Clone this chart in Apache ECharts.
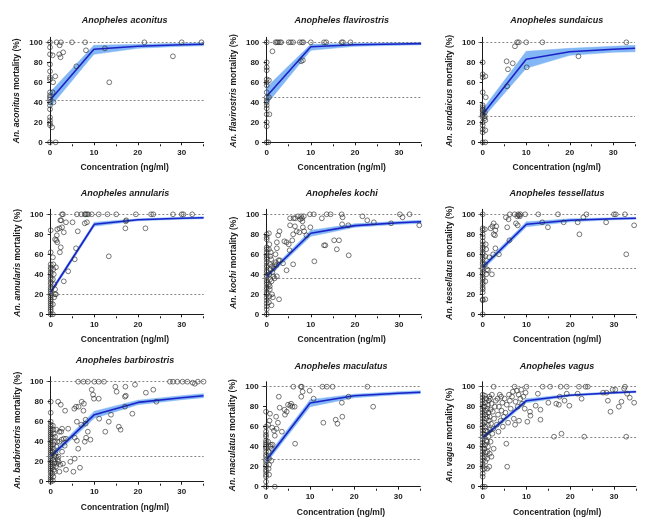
<!DOCTYPE html>
<html>
<head>
<meta charset="utf-8">
<script src="https://cdn.jsdelivr.net/npm/echarts@6/dist/echarts.min.js"></script>
<style>
html, body { margin: 0; background: #fff; }
#chart { width: 669px; height: 530px; }
</style>
</head>
<body>
<div id="chart"></div>
<script>
// tick labels
var xTicks = [0, 10, 20, 30];
var xMinorTicks = [5, 15, 25, 35];
var yTicks = [0, 20, 40, 60, 80, 100];

// concentrations where the fitted curve / CI band is drawn
var fitConc = [0, 10, 20, 30, 35];

var species = ['aconitus', 'flavirostris', 'sundaicus', 'annularis', 'kochi', 'tessellatus', 'barbirostris', 'maculatus', 'vagus'];
// control mortality (lower dotted line)
var controlMort = [42, 45, 26, 20, 36, 46, 25, 27, 49];

var aconitusFit = [42, 93, 96, 97.5, 98];
var aconitusLow = [35, 88, 94, 96, 96.5];
var aconitusHigh = [50, 97, 98, 99, 99.5];
var aconitusPts = [[0,100],[0,95],[0,88],[0,78],[0,71],[0,65],[0,63],[0,50],[0,47],[0,45],[0,43],[0,40],[0,37],[0,33],[0,25],[0,22],[0,19],[0,17],[0,0],
  [0.6,87],[0.7,60],[0.6,50],[0.8,40],[0.5,15],[1.2,66],[1.3,0],[1.5,100],[2.5,100],[2.2,97],[2.1,88],[2.4,85],[3,90],
  [5,100],[8,100],[6,76],[8.2,92],[12.5,94],[13.5,60],[21.5,100],[28,86],[30,100],[34.5,100]];

var flavirostrisFit = [46, 95.5, 97.5, 98.3, 98.7];
var flavirostrisLow = [38, 92, 96, 97, 97.5];
var flavirostrisHigh = [55, 98, 99, 99.5, 99.7];
var flavirostrisPts = [[0,100],[0,80],[0,75],[0,72],[0,63],[0,60],[0,57],[0,50],[0,45],[0,42],[0,40],[0,37],[0,34],[0,28],[0,20],[0,16],[0,0],
  [0.5,62],[0.6,28],[0.4,0],[0.5,45],[1.3,91],[2,100],[2.3,100],[2.6,100],[3,100],[3.3,100],[5,100],[5.5,100],[6,100],
  [7.5,100],[8,100],[8.3,100],[10,100],[13,100],[13.5,100],[17,100],[17.3,100],[19,100],[7.8,81],[8.2,82]];

var sundaicusFit = [28, 83, 90.5, 93, 94];
var sundaicusLow = [24, 74, 87, 90, 90.5];
var sundaicusHigh = [33, 91, 94, 96, 97];
var sundaicusPts = [[0,80],[0,68],[0,65],[0,50],[0,37],[0,35],[0,33],[0,32],[0,30],[0,28],[0,27],[0,25],[0,20],[0,17],[0,13],[0,10],[0,0],
  [0.6,66],[0.7,45],[0.6,22],[0.6,12],[0.6,0],[0.5,30],[0.5,26],[0.4,24],[5.5,81],[5.8,73],[6.9,79],[5.6,56],[7.4,96],
  [7.9,100],[8.3,100],[10,100],[10.1,75],[13.7,100],[22,86],[33,100]];

var annularisFit = [22, 90, 94.5, 96, 96.5];
var annularisLow = [20, 88, 93.5, 95, 95.5];
var annularisHigh = [24, 92, 95.5, 97, 97.5];
var annularisPts = [[0,0],[0,3],[0,5],[0,7],[0,9],[0,11],[0,13],[0,15],[0,17],[0,19],[0,21],[0,23],[0,25],[0,27],[0,30],[0,32],[0,35],[0,37],[0,40],[0,42],[0,45],[0,47],[0,50],[0,62],[0,84],
  [0.5,57],[0.6,45],[0.7,40],[0.5,35],[0.8,30],[1,25],[1,20],[0.5,10],[0.5,0],[1.2,20],[0.8,17],[0.6,50],[1.2,47],
  [1,75],[1.3,74],[1.5,72],[1.4,79],[1.5,85],[2,86],[2.2,94],[2.4,94],[2.1,62],[2.3,67],[2.6,87],[3,82],[3,33],[2.6,100],[2.8,100],
  [3.5,92],[4,43],[5,92],[5.5,55],[5.8,66],[6.2,83],[6,100],[7,100],[7.8,100],[8,100],[8.3,100],[8.6,100],[9.4,100],[7.8,91],[8.3,92],
  [11,100],[13,100],[15,100],[13.3,58],[17.2,93],[17.3,94],[17.1,86],[19.5,100],[21.7,86],[23,100],[23.5,100],[28,100],[30,100],[30.4,100],[32.4,100]];

var kochiFit = [38, 81, 88.7, 91.5, 92.5];
var kochiLow = [36, 78, 87, 90, 91];
var kochiHigh = [40, 84, 90.5, 93, 94];
var kochiPts = [[0,0],[0,5],[0,8],[0,11],[0,14],[0,17],[0,20],[0,22],[0,25],[0,27],[0,30],[0,32],[0,34],[0,37],[0,39],[0,42],[0,44],[0,47],[0,49],[0,52],[0,55],[0,57],[0,59],[0,62],[0,65],[0,67],[0,75],[0,77],[0,80],
  [0.5,12],[0.6,18],[0.7,25],[0.5,30],[0.8,35],[0.6,40],[0.9,45],[0.7,50],[1,55],[0.8,58],[1.2,48],[1.3,42],[1.5,38],[1.2,20],[1.4,17],[1.1,9],
  [1.6,46],[1.8,50],[2,52],[2.2,49],[0.5,65],[0.6,70],[0.5,81],[0.9,62],[1.1,33],[0.7,28],
  [1.8,36],[2.3,38],[2.8,15],[2.7,54],[2.3,66],[2.3,72],[2.6,79],[2.9,83],[2,60],[3,54],[3.7,51],[4,73],[4.5,72],[4.5,44],[5,70],[5.2,64],
  [5.3,89],[5.3,96],[5.8,74],[6,80],[6.1,96],[6.4,88],[6,50],[6.5,96],[6.8,83],[7.1,98],[7.4,82],[7.6,95],[7.8,98],[8,96],[8.1,93],[8.2,87],
  [8.4,98],[8.5,83],[9,79],[9.8,100],[9.9,87],[10.7,100],[10.8,53],[12.5,96],[13,69],[13.3,69],[13.6,100],[14.5,100],[15.3,74],[15.9,65],
  [16.4,74],[17,100],[17.1,90],[17.2,97],[18.6,59],[18.5,89],[21.7,98],[22.8,94],[24.3,92],[28.2,91],[30.2,100],[30.8,97],[32.4,100],[34.6,89]];

var tessellatusFit = [47, 90, 94, 95.5, 96];
var tessellatusLow = [44.5, 87.5, 92.5, 94.5, 95];
var tessellatusHigh = [49.5, 92.5, 95.5, 96.5, 97];
var tessellatusPts = [[0,100],[0,86],[0,84],[0,80],[0,77],[0,73],[0,70],[0,67],[0,65],[0,62],[0,60],[0,57],[0,55],[0,52],[0,50],[0,47],[0,45],[0,42],[0,40],[0,37],[0,35],[0,32],[0,30],[0,27],[0,25],[0,22],[0,15],[0,14],[0,0],
  [0.5,85],[0.7,70],[0.8,65],[0.6,58],[0.5,50],[1,45],[1.2,44],[0.8,40],[0.6,33],[0.6,15],[2.1,40],[1.5,57],[1.8,86],[2.2,88],[2.5,91],[2.5,80],
  [2.8,79],[2.9,84],[3.1,88],[2.9,66],[3.7,60],[2.4,60],[5.3,97],[5.6,87],[5.9,95],[6.2,100],[6.1,74],[7.3,100],[7.6,91],[8,89],[7.9,98],[8.1,100],
  [8.3,99],[8.5,98],[8.6,100],[9.7,100],[12.7,100],[13.6,92],[14.9,87],[17.2,100],[18.5,92],[21.7,92],[22.1,80],[23,97],[23.7,100],[28.2,92],
  [30,100],[30.4,100],[32.5,100],[32.8,60],[34.6,89]];

var barbirostrisFit = [25, 67, 79.3, 84, 86];
var barbirostrisLow = [23, 63.5, 77, 82, 84];
var barbirostrisHigh = [27.5, 70.5, 81.5, 86, 88];
var barbirostrisPts = [[0,0],[0,2],[0,4],[0,6],[0,9],[0,11],[0,13],[0,15],[0,17],[0,19],[0,21],[0,23],[0,25],[0,27],[0,29],[0,31],[0,33],[0,35],[0,37],[0,39],[0,41],[0,43],[0,45],[0,47],[0,49],[0,51],[0,53],[0,55],[0,57],[0,60],[0,69],[0,80],
  [0.5,1],[0.6,5],[0.4,8],[0.7,12],[0.5,15],[0.8,18],[0.6,22],[0.9,26],[0.5,30],[0.7,33],[0.6,37],[0.8,40],[0.5,44],[0.7,48],[0.6,52],[0.5,56],
  [1,20],[1.2,15],[1.1,28],[1.3,35],[1.5,40],[1.2,25],[1.4,18],[1.6,22],[1.8,20],[0.9,10],[1,45],[2.8,18],[2.5,42],[3.2,36],
  [1.7,80],[2.3,77],[1.3,52],[2,50],[2.4,50],[2.6,53],[3,43],[3.5,43],[4,53],[3.3,71],[2,40],[2.6,30],[1.8,25],[2.2,17],[2,10],[3.5,12],
  [4.5,20],[5.2,10],[5.5,23],[5.5,44],[6,41],[6.3,33],[6.7,14],[5.4,73],[5.8,75],[6.4,75],[6,60],[7,57],[7.1,80],[7.6,78],[7.5,71],[8,58],
  [7.8,40],[8.1,44],[8.5,50],[9.1,42],[8,62],[8.5,100],[6.3,100],[7.5,100],[9.4,92],[9.7,87],[9.9,83],[10,100],[11,100],[11,83],[11.1,63],
  [12.2,100],[12.5,50],[13.3,60],[13.8,67],[14.8,95],[15.1,90],[15.6,55],[16,52],[17,85],[17.2,86],[17.1,95],[17,75],[18.7,68],[19.3,97],
  [21.8,89],[23.5,92],[24.2,80],[27.3,100],[28,100],[29,100],[30.2,100],[31.3,100],[32.5,99],[33,98],[33.7,100],[35,100]];

var maculatusFit = [26, 83.7, 91, 93.5, 94.5];
var maculatusLow = [23, 80, 89, 92, 93];
var maculatusHigh = [29, 87, 92.5, 95, 96];
var maculatusPts = [[0,0],[0,5],[0,10],[0,12],[0,15],[0,17],[0,20],[0,22],[0,25],[0,27],[0,30],[0,32],[0,35],[0,38],[0,40],[0,42],[0,44],[0,46],[0,50],[0,52],[0,55],[0,60],[0,75],
  [0.5,62],[0.8,66],[0.9,73],[0.7,12],[0.7,28],[0.6,35],[1,40],[1.1,42],[1.5,42],[1.3,38],[1.2,26],[0.7,22],[0.5,45],[0.6,18],
  [1.4,59],[1.8,56],[2,51],[2.4,58],[2.3,70],[2.7,64],[2.9,90],[3.1,79],[3.6,55],[4.2,77],[4.3,72],[4.7,75],[5,82],[5.5,81],[5.7,83],[6,80],
  [6.2,100],[6.5,80],[6.6,43],[7.9,100],[8.1,100],[8,90],[8.3,95],[9.9,96],[10.8,88],[12.8,100],[13,64],[13.8,100],[15.1,100],[15.8,67],
  [16.2,63],[17.2,84],[17.3,70],[18.7,90],[23,100],[24.3,80],[2,0]];

var vagusFit = [49, 86, 91.5, 94, 95];
var vagusLow = [47, 84, 90.5, 93, 94];
var vagusHigh = [51, 88, 92.5, 95, 96];
var vagusPts = [[0,0],[0,10],[0,13],[0,17],[0,20],[0,23],[0,26],[0,29],[0,32],[0,35],[0,38],[0,41],[0,44],[0,47],[0,50],[0,53],[0,56],[0,59],[0,62],[0,65],[0,68],[0,71],[0,74],[0,77],[0,80],[0,83],[0,86],[0,89],[0,92],
  [0.5,0],[0.4,18],[0.6,25],[0.5,30],[0.7,34],[0.4,38],[0.6,42],[0.8,46],[0.5,52],[0.7,56],[0.6,60],[0.5,64],[0.8,68],[0.6,72],[0.7,76],[0.5,80],
  [0.6,84],[0.8,88],[0.5,91],[1,28],[1.1,35],[1.2,40],[1,45],[1.3,50],[1.1,55],[1.2,62],[1.4,66],[1,70],[1.3,74],[1.1,78],[1.2,82],[1.4,86],
  [1.5,90],[1.6,33],[1.8,45],[1.7,57],[1.9,63],[1.6,70],[1.8,77],[2,83],[1.7,88],[2.1,92],[2.2,53],[2.4,58],[2.3,75],[2.5,38],[2.6,68],[2.8,80],
  [3,86],[1.5,20],[1,18],[2,30],
  [3.2,62],[3.5,72],[3.7,80],[3.4,88],[3.9,92],[4.1,66],[4.3,76],[4.5,84],[4.2,90],[4.8,70],[5,88],[5.2,74],[5.4,43],[5.6,20],[5.8,64],[5.5,82],
  [6,92],[6.2,86],[6.4,78],[6.7,90],[6.9,95],[7.1,68],[7.3,100],[7.5,85],[7.4,62],[7.8,96],[8,80],[8.2,92],[8.3,66],[8.6,88],[8.8,97],[9,83],
  [9.3,90],[9.6,78],[9.8,94],[2.5,100],[3.6,55],[4.6,60],
  [10,100],[10.2,65],[10.9,71],[10.8,75],[12.1,81],[12.6,93],[13.2,67],[13.2,77],[13.7,100],[15,84],[15.4,100],[16.3,50],[16.8,83],[17.4,82],
  [17.6,90],[17.8,100],[18,53],[18.7,86],[19.2,93],[19.2,100],[19.8,81],[21.7,93],[22,100],[22.6,88],[23.2,50],[23.5,100],[24,100],[27.5,94],
  [28.3,94],[28.6,86],[29.2,75],[29.7,97],[30.3,97],[31.1,80],[31.7,85],[32.3,98],[32.5,100],[32.8,50],[33,93],[33.6,89],[34.6,84]];

var allPts = [aconitusPts, flavirostrisPts, sundaicusPts, annularisPts, kochiPts, tessellatusPts, barbirostrisPts, maculatusPts, vagusPts];
var allFit = [aconitusFit, flavirostrisFit, sundaicusFit, annularisFit, kochiFit, tessellatusFit, barbirostrisFit, maculatusFit, vagusFit];
var allLow = [aconitusLow, flavirostrisLow, sundaicusLow, annularisLow, kochiLow, tessellatusLow, barbirostrisLow, maculatusLow, vagusLow];
var allHigh = [aconitusHigh, flavirostrisHigh, sundaicusHigh, annularisHigh, kochiHigh, tessellatusHigh, barbirostrisHigh, maculatusHigh, vagusHigh];

// pixel positions of x=0, x=30, y=100, y=0 for each panel
var boxes = [
  [50, 181.7, 42.3, 142.3], [266.7, 399, 42.3, 142.3], [482.7, 613.3, 42.3, 142.3],
  [50.7, 181.7, 214.3, 314.3], [266.7, 399, 214.3, 314.3], [482.7, 614, 214.3, 314.3],
  [50.7, 181.7, 381.7, 481.7], [266, 398.3, 386.7, 486.7], [482.7, 614, 386.7, 486.7]
];
var titleY = [16, 16, 16, 189, 189, 189, 356, 362, 362];

var FONT = '"Liberation Sans", Arial, sans-serif';
var INK = '#1a1a1a';

// one band segment per pair of neighbouring fit points
function bandItem(api) {
  var a = api.coord([api.value(0), api.value(1)]);
  var b = api.coord([api.value(3), api.value(4)]);
  var c = api.coord([api.value(3), api.value(5)]);
  var d = api.coord([api.value(0), api.value(2)]);
  return {
    type: 'polygon',
    shape: { points: [a, b, c, d] },
    style: { fill: '#82b6f4', stroke: '#82b6f4', lineWidth: 0.5 }
  };
}

var grids = [], xAxes = [], yAxes = [], series = [], titles = [];

species.forEach(function (sp, i) {
  var b = boxes[i];
  var ppu = (b[1] - b[0]) / 30;
  var ppy = (b[3] - b[2]) / 100;
  var left = b[0] - ppu;
  grids.push({ left: left, top: b[2] - 5 * ppy, width: 36 * ppu, height: 107 * ppy });

  titles.push({
    text: 'Anopheles ' + sp,
    left: left + 18 * ppu, top: titleY[i], textAlign: 'center', padding: 0,
    textStyle: { fontFamily: FONT, fontSize: 9, fontWeight: 'bold', fontStyle: 'italic', color: INK }
  });

  xAxes.push({
    type: 'value', gridIndex: i, min: -1, max: 35, position: 'bottom',
    axisLine: { lineStyle: { color: INK, width: 1 } },
    axisTick: { customValues: xTicks, length: 3, lineStyle: { color: INK } },
    axisLabel: { customValues: xTicks, fontFamily: FONT, fontSize: 8, fontWeight: 'bold', color: INK, margin: 4 },
    splitLine: { show: false },
    name: 'Concentration (ng/ml)', nameLocation: 'middle', nameGap: 19,
    nameTextStyle: { fontFamily: FONT, fontSize: 8.5, fontWeight: 'bold', color: INK }
  });
  xAxes.push({
    type: 'value', gridIndex: i, min: -1, max: 35, position: 'bottom',
    axisLine: { show: false },
    axisTick: { customValues: xMinorTicks, length: 2, lineStyle: { color: INK } },
    axisLabel: { show: false },
    splitLine: { show: false }
  });

  yAxes.push({
    type: 'value', gridIndex: i, min: -2, max: 105,
    axisLine: { show: true, lineStyle: { color: INK, width: 1 } },
    axisTick: { show: true, customValues: yTicks, length: 3, lineStyle: { color: INK } },
    axisLabel: { customValues: yTicks, fontFamily: FONT, fontSize: 8, fontWeight: 'bold', color: INK, margin: 3 },
    splitLine: { show: false },
    name: '{i|An. ' + sp + '} mortality (%)', nameLocation: 'middle', nameGap: 24,
    nameTextStyle: {
      fontFamily: FONT, fontSize: 8.5, fontWeight: 'bold', color: INK,
      rich: { i: { fontFamily: FONT, fontSize: 8.5, fontWeight: 'bold', fontStyle: 'italic', color: INK } }
    }
  });

  var lo = allLow[i], hi = allHigh[i], fit = allFit[i];
  var segs = [];
  for (var k = 0; k < fitConc.length - 1; k++) {
    segs.push([fitConc[k], lo[k], hi[k], fitConc[k + 1], lo[k + 1], hi[k + 1]]);
  }
  series.push({
    type: 'custom', xAxisIndex: 2 * i, yAxisIndex: i, silent: true, z: 1,
    renderItem: function (params, api) { return bandItem(api); },
    encode: { x: [0, 3], y: [1, 2, 4, 5] },
    data: segs
  });
  series.push({
    type: 'line', xAxisIndex: 2 * i, yAxisIndex: i, symbol: 'none', silent: true, z: 3,
    lineStyle: { color: '#1a22c8', width: 1.6 },
    data: fitConc.map(function (c, k) { return [c, fit[k]]; }),
    markLine: {
      symbol: 'none', silent: true, label: { show: false },
      lineStyle: { type: [2, 2], color: '#666', width: 0.8 },
      data: [{ yAxis: 100 }, { yAxis: controlMort[i] }]
    }
  });
  series.push({
    type: 'scatter', xAxisIndex: 2 * i, yAxisIndex: i, symbol: 'circle', symbolSize: 4.8, clip: false, z: 4,
    itemStyle: { color: 'rgba(255,255,255,0)', borderColor: '#2a2a2a', borderWidth: 0.8 },
    data: allPts[i]
  });
});

var chart = echarts.init(document.getElementById('chart'));
chart.setOption({
  animation: false,
  backgroundColor: '#fff',
  title: titles,
  grid: grids,
  xAxis: xAxes,
  yAxis: yAxes,
  series: series
});
</script>
</body>
</html>
